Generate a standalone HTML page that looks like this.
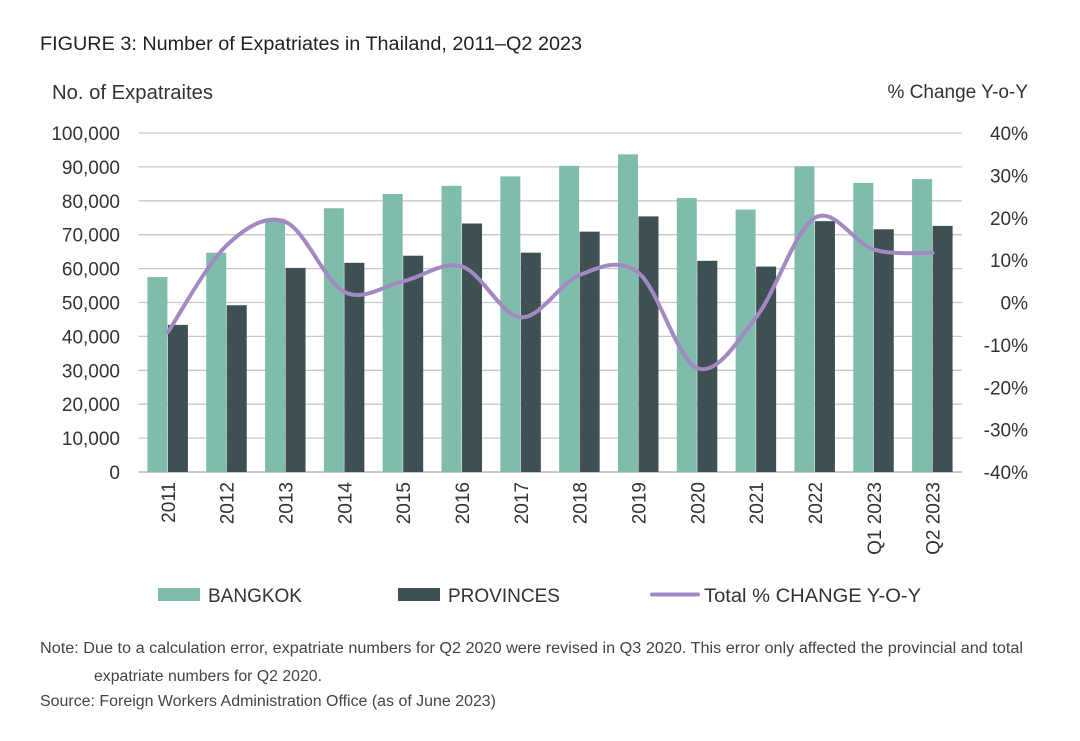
<!DOCTYPE html>
<html><head><meta charset="utf-8">
<style>
body{margin:0;background:#fff;font-family:"Liberation Sans",sans-serif;}
svg text{font-family:"Liberation Sans",sans-serif;}
</style></head>
<body>
<svg width="1080" height="736" viewBox="0 0 1080 736" xmlns="http://www.w3.org/2000/svg">
<text x="40" y="50" font-size="19" fill="#222" textLength="542" lengthAdjust="spacingAndGlyphs">FIGURE 3: Number of Expatriates in Thailand, 2011–Q2 2023</text>
<text x="52" y="99" font-size="20" fill="#333" textLength="161" lengthAdjust="spacingAndGlyphs">No. of Expatraites</text>
<text x="1028" y="98" font-size="19" fill="#333" text-anchor="end">% Change Y-o-Y</text>
<g id="grid"></g><g id="bars"></g><g id="axes"></g><g id="line"></g>
<g>
<rect x="158" y="588" width="42" height="13" fill="#7fbcab"/>
<text x="208" y="602" font-size="19" fill="#333">BANGKOK</text>
<rect x="398" y="588" width="42" height="13" fill="#3f5052"/>
<text x="448" y="602" font-size="19" fill="#333">PROVINCES</text>
<line x1="652" y1="594.5" x2="698" y2="594.5" stroke="#a389c4" stroke-width="4" stroke-linecap="round"/>
<text x="704" y="602" font-size="19" fill="#333" textLength="217" lengthAdjust="spacingAndGlyphs">Total % CHANGE Y-O-Y</text>
</g>
<text x="40" y="653" font-size="15.5" fill="#444" textLength="983" lengthAdjust="spacingAndGlyphs">Note: Due to a calculation error, expatriate numbers for Q2 2020 were revised in Q3 2020. This error only affected the provincial and total</text>
<text x="94" y="681" font-size="15.5" fill="#444" textLength="228" lengthAdjust="spacingAndGlyphs">expatriate numbers for Q2 2020.</text>
<text x="40" y="706" font-size="15.5" fill="#444" textLength="456" lengthAdjust="spacingAndGlyphs">Source: Foreign Workers Administration Office (as of June 2023)</text>
</svg>
<script>
const categories=["2011","2012","2013","2014","2015","2016","2017","2018","2019","2020","2021","2022","Q1 2023","Q2 2023"];
const bangkok=[57500,64700,74700,77800,82000,84400,87200,90300,93700,80800,77400,90200,85300,86400];
const provinces=[43400,49200,60200,61700,63800,73300,64700,70900,75400,62300,60600,74000,71600,72600];
const pctChange=[-7,13.5,19,2.5,5,8.5,-3.5,6.5,7,-15.5,-3.5,20,12.5,11.7];
const leftTicks=[0,10000,20000,30000,40000,50000,60000,70000,80000,90000,100000];
const rightTicks=[-40,-30,-20,-10,0,10,20,30,40];
const NS="http://www.w3.org/2000/svg";
const X0=138.5,X1=962,Y0=472,Y1=133;
const step=(X1-X0)/categories.length;
const yL=v=>Y0-(v/100000)*(Y0-Y1);
const yR=v=>Y0-((v+40)/80)*(Y0-Y1);
const xC=i=>X0+step*(i+0.5);
function mk(tag,attrs,parent,txt){const e=document.createElementNS(NS,tag);for(const k in attrs)e.setAttribute(k,attrs[k]);if(txt!==undefined)e.textContent=txt;document.getElementById(parent).appendChild(e);return e;}
leftTicks.forEach(t=>{
  const l=mk('line',{x1:X0,x2:X1,y1:yL(t),y2:yL(t),stroke:t===0?'#aaa':'#c8c8c8','stroke-width':1.3},'grid');
  
  
  const tx=mk('text',{x:120,y:yL(t)+7,'font-size':19,fill:'#333','text-anchor':'end'},'axes',t.toLocaleString('en-US'));
  
  
});
rightTicks.forEach(t=>{
  const tx=mk('text',{x:1028,y:yR(t)+7,'font-size':19,fill:'#333','text-anchor':'end'},'axes',t+'%');
  
  
});
categories.forEach((c,i)=>{
  const cx=xC(i);
  const b=mk('rect',{x:cx-20.5,y:yL(bangkok[i]),width:20,height:Y0-yL(bangkok[i]),fill:'#7fbcab'},'bars');
  
  
  const p=mk('rect',{x:cx,y:yL(provinces[i]),width:20,height:Y0-yL(provinces[i]),fill:'#3f5052'},'bars');
  
  
  const t=mk('text',{x:0,y:0,'font-size':19,fill:'#333','text-anchor':'end',transform:`translate(${cx+7},482) rotate(-90)`},'axes',c);
  
  
});
const pts=pctChange.map((v,i)=>[xC(i),yR(v)]);
let d=`M${pts[0][0]},${pts[0][1]}`;
for(let i=0;i<pts.length-1;i++){
  const p0=pts[Math.max(0,i-1)],p1=pts[i],p2=pts[i+1],p3=pts[Math.min(pts.length-1,i+2)];
  const c1=[p1[0]+(p2[0]-p0[0])/6,p1[1]+(p2[1]-p0[1])/6];
  const c2=[p2[0]-(p3[0]-p1[0])/6,p2[1]-(p3[1]-p1[1])/6];
  d+=` C${c1[0]},${c1[1]} ${c2[0]},${c2[1]} ${p2[0]},${p2[1]}`;
}
const ln=mk('path',{d:d,fill:'none',stroke:'#a389c4','stroke-width':4,'stroke-linecap':'round'},'line');


</script>
</body></html>
